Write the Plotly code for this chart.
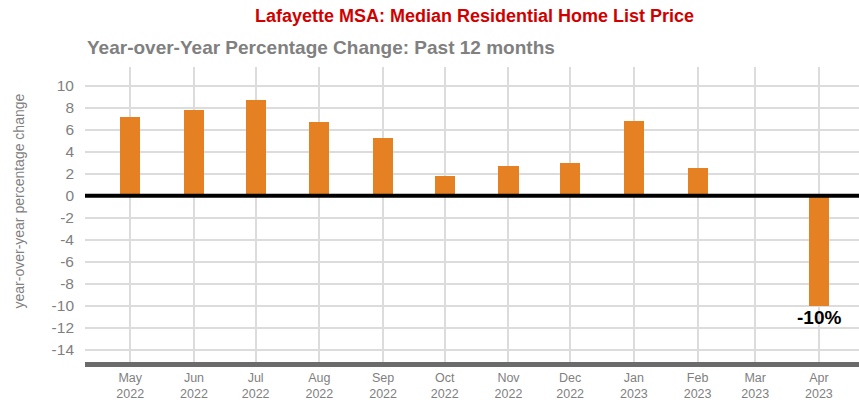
import plotly.graph_objects as go

months = ["2022-05-01", "2022-06-01", "2022-07-01", "2022-08-01", "2022-09-01", "2022-10-01",
          "2022-11-01", "2022-12-01", "2023-01-01", "2023-02-01", "2023-03-01", "2023-04-01"]
yoy_change = [7.2, 7.8, 8.7, 6.7, 5.25, 1.8, 2.75, 2.95, 6.8, 2.5, 0, -10]
y_ticks = list(range(-14, 11, 2))
y_tick_labels = [str(v) for v in y_ticks]

DAY_MS = 86400000

fig = go.Figure()
fig.add_trace(go.Bar(
    x=months, y=yoy_change,
    width=[9.8 * DAY_MS] * len(months),
    marker=dict(color="#E68123", line=dict(width=0)),
    hoverinfo="x+y",
))

fig.add_hline(y=0, line=dict(color="black", width=4))

fig.add_annotation(x=months[-1], y=yoy_change[-1], text="<b>-10%</b>", showarrow=False,
                   yanchor="top", yshift=1,
                   font=dict(family="Liberation Sans, Arial", size=19, color="black"))

fig.add_annotation(xref="paper", yref="paper", x=0.503, y=1.0, yshift=51,
                   text="<b>Lafayette MSA: Median Residential Home List Price</b>",
                   showarrow=False, xanchor="center", yanchor="middle",
                   font=dict(family="Liberation Sans, Arial", size=18, color="#D00000"))
fig.add_annotation(xref="paper", yref="paper", x=0, xshift=0, y=1.0, yshift=20,
                   text="<b>Year-over-Year Percentage Change: Past 12 months</b>",
                   showarrow=False, xanchor="left", yanchor="middle",
                   font=dict(family="Liberation Sans, Arial", size=19, color="#808080"))
fig.add_annotation(xref="paper", yref="paper", x=0, xshift=-67, y=0.5, yshift=13,
                   text="year-over-year percentage change", textangle=-90,
                   showarrow=False, xanchor="center", yanchor="middle",
                   font=dict(family="Liberation Sans, Arial", size=14, color="#7f7f7f"))

fig.update_layout(
    width=859, height=403,
    margin=dict(l=85, r=0, t=67, b=41, autoexpand=False),
    plot_bgcolor="white", paper_bgcolor="white",
    showlegend=False,
    bargap=0,
    font=dict(family="Liberation Sans, Arial", color="#7f7f7f"),
    xaxis=dict(
        type="date", automargin=False,
        range=["2022-04-09", "2023-04-20 12:00"],
        tick0="2022-05-01", dtick="M1",
        tickformat="%b<br>%Y",
        tickfont=dict(size=12.5, color="#7f7f7f"),
        showgrid=True, gridcolor="#dcdcdc", gridwidth=1.5,
        showline=True, linecolor="#6b6b6b", linewidth=5,
        ticks="", zeroline=False,
        ticklabelstandoff=0,
    ),
    yaxis=dict(
        range=[-15.1, 11.7], automargin=False,
        tickmode="array", tickvals=y_ticks, ticktext=y_tick_labels,
        tickfont=dict(size=15.5, color="#7f7f7f"),
        showgrid=True, gridcolor="#dcdcdc", gridwidth=1.5,
        zeroline=False, showline=False,
        ticklabelstandoff=10,
    ),
)

fig.write_html("out.html", config={"displayModeBar": False},
               post_script="document.body.style.margin='0';document.body.style.overflow='hidden';")
